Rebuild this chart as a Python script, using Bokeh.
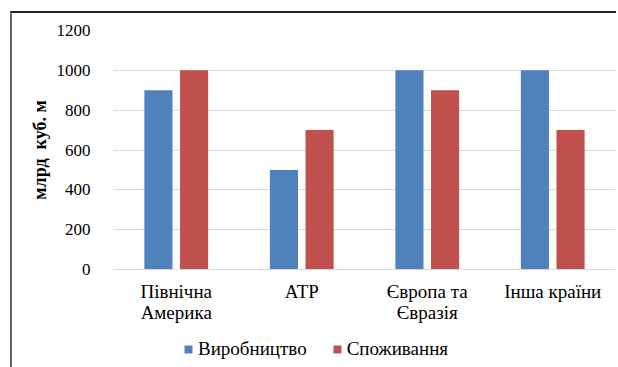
from bokeh.plotting import figure
from bokeh.layouts import column
from bokeh.models import FactorRange, Legend, LegendItem, ColumnDataSource
from bokeh.transform import dodge
from bokeh.embed import file_html
from bokeh.resources import INLINE

categories = ["Північна\nАмерика", "АТР", "Європа та\nЄвразія", "Інша країни"]
production = [900, 500, 1000, 1000]
consumption = [1000, 700, 900, 700]
series_names = ["Виробництво", "Споживання"]
y_ticks = [0, 200, 400, 600, 800, 1000, 1200]
y_title = "млрд\u00a0 куб. м"

BLUE = "#4F81BD"
RED = "#C0504D"
GRID = "#D9D9D9"
FONT = "'Liberation Serif'"

src = ColumnDataSource(dict(cat=categories, prod=production, cons=consumption))

p = figure(frame_width=500, frame_height=237, x_range=FactorRange(*categories, range_padding=0),
           y_range=(0, 1200), output_backend="svg", toolbar_location=None,
           min_border_left=101, min_border_right=3, min_border_top=17, min_border_bottom=70)
p.margin = (11, 0, 0, 10)
p.styles = {"border-top": "2px solid #222222", "border-left": "2px solid #666666"}
p.outline_line_color = None
p.background_fill_color = "white"
p.border_fill_color = "white"

r1 = p.vbar(x=dodge("cat", -0.142, range=p.x_range), top="prod", width=0.224, source=src,
            fill_color=BLUE, line_color=None)
r2 = p.vbar(x=dodge("cat", 0.142, range=p.x_range), top="cons", width=0.224, source=src,
            fill_color=RED, line_color=None)

p.xgrid.grid_line_color = None
p.ygrid.grid_line_color = GRID
p.ygrid.grid_line_width = 1
p.yaxis.ticker = y_ticks

for ax in (p.xaxis[0], p.yaxis[0]):
    ax.major_tick_line_color = None
    ax.minor_tick_line_color = None
    ax.major_label_text_font = FONT
    ax.major_label_text_color = "#000000"
p.yaxis.axis_line_color = None
p.xaxis.axis_line_color = GRID
p.yaxis.major_label_text_font_size = "17px"
p.yaxis.major_label_standoff = 17
p.xaxis.major_label_text_font_size = "19px"
p.xaxis.major_label_text_line_height = 1.0
p.xaxis.major_label_standoff = 5

p.yaxis.axis_label = y_title
p.yaxis.axis_label_text_font = FONT
p.yaxis.axis_label_text_font_style = "bold"
p.yaxis.axis_label_text_font_size = "18px"
p.yaxis.axis_label_text_color = "#000000"
p.yaxis.axis_label_standoff = 4

# legend strip below the chart (same series colours, hidden key renderers)
lg = figure(width=606, height=30, x_range=(0, 1), y_range=(0, 1), output_backend="svg",
            toolbar_location=None, min_border=0)
lg.margin = (0, 0, 0, 10)
lg.styles = {"border-left": "2px solid #666666"}
lg.axis.visible = False
lg.grid.visible = False
lg.outline_line_color = None
lg.background_fill_color = "white"
lg.border_fill_color = "white"
k1 = lg.vbar(x="prod", top="prod", width=0.1, source=src, fill_color=BLUE, line_color=None,
             visible=False)
k2 = lg.vbar(x="cons", top="cons", width=0.1, source=src, fill_color=RED, line_color=None,
             visible=False)

legend = Legend(items=[LegendItem(label=series_names[0], renderers=[k1]),
                       LegendItem(label=series_names[1], renderers=[k2])],
                orientation="horizontal", location=(70, 7),
                glyph_width=10, glyph_height=10, label_standoff=5, spacing=25,
                padding=0, margin=0, border_line_color=None, background_fill_alpha=0,
                inactive_fill_alpha=0,
                label_text_font=FONT, label_text_font_size="19px", label_text_color="#000000")
lg.add_layout(legend, "center")

layout = column(p, lg, spacing=0)
open("out.html", "w").write(file_html(layout, INLINE))
